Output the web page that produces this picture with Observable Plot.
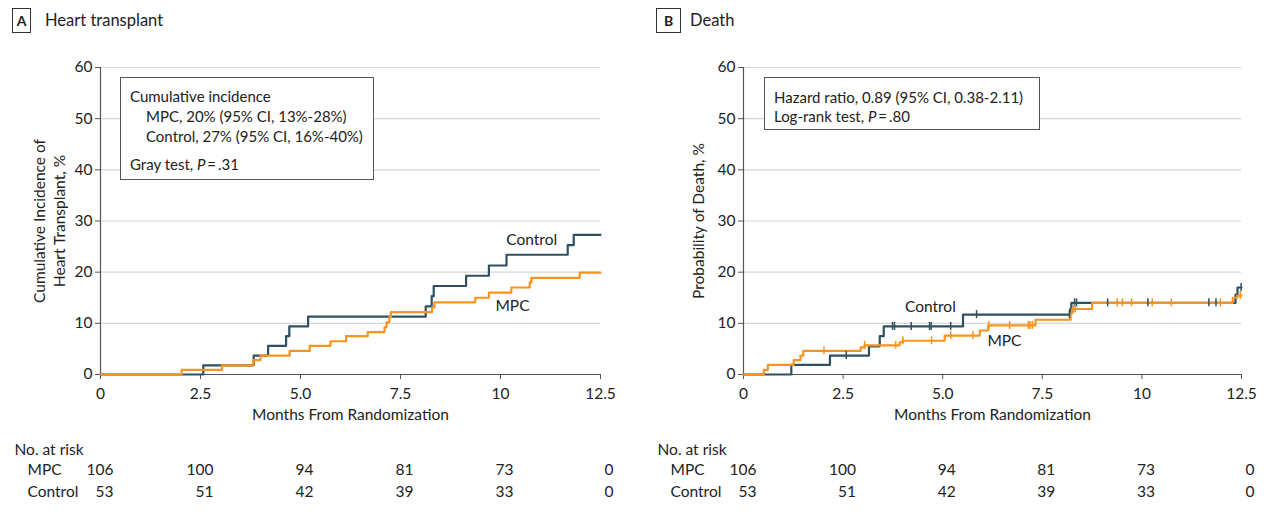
<!DOCTYPE html>
<html>
<head>
<meta charset="utf-8">
<script src="https://cdn.jsdelivr.net/npm/d3@7"></script>
<script src="https://cdn.jsdelivr.net/npm/@observablehq/plot@0.6"></script>
<style>
  html, body { margin: 0; padding: 0; background: #fff; }
  #root { position: relative; width: 1267px; height: 527px; font-family: Lato, "Noto Sans", sans-serif; color: #222; overflow: hidden; }
  .hdrbox { position: absolute; border: 1px solid #333; font-weight: bold; font-size: 14px; text-align: center; box-sizing: border-box; }
  .hdrtxt { position: absolute; font-size: 16.5px; white-space: nowrap; }
  .legend { position: absolute; border: 1px solid #555; box-sizing: border-box; background: #fff; }
  .legend .ln { position: absolute; font-size: 15px; white-space: nowrap; transform: translateY(-50%); }
  .panel { position: absolute; top: 0; }
</style>
</head>
<body>
<div id="root">
  <div class="hdrbox" style="left:12px;top:8px;width:19px;height:25px;line-height:23px;">A</div>
  <div class="hdrtxt" style="left:45px;top:10px;">Heart transplant</div>
  <div class="hdrbox" style="left:656px;top:8px;width:25px;height:25px;line-height:23px;">B</div>
  <div class="hdrtxt" style="left:690px;top:10px;">Death</div>
  <div id="panelA" class="panel" style="left:0px;"></div>
  <div id="panelB" class="panel" style="left:640px;"></div>
  <div class="legend" style="left:120px;top:77px;width:254px;height:103px;">
    <div class="ln" style="left:9px;top:18px;">Cumulative incidence</div>
    <div class="ln" style="left:25px;top:38px;">MPC, 20% (95% CI, 13%-28%)</div>
    <div class="ln" style="left:25px;top:58px;">Control, 27% (95% CI, 16%-40%)</div>
    <div class="ln" style="left:9px;top:86px;">Gray test, <i>P</i>&#8201;=&#8201;.31</div>
  </div>
  <div class="legend" style="left:764px;top:77px;width:276px;height:53px;">
    <div class="ln" style="left:9px;top:19px;">Hazard ratio, 0.89 (95% CI, 0.38-2.11)</div>
    <div class="ln" style="left:9px;top:38px;">Log-rank test, <i>P</i>&#8201;=&#8201;.80</div>
  </div>
</div>
<script>
// ---------- data ----------
const xTicks = [0, 2.5, 5, 7.5, 10, 12.5];
const xTickLabels = ["0", "2.5", "5.0", "7.5", "10", "12.5"];
const yTicks = [0, 10, 20, 30, 40, 50, 60];
const xMax = 12.5;

const riskMPC = [106, 100, 94, 81, 73, 0];
const riskControl = [53, 51, 42, 39, 33, 0];

// Panel A: cumulative incidence of heart transplant (%)
const mpcA_t = [0, 2.03, 3.04, 3.82, 4.0, 4.73, 5.23, 5.75, 6.14, 6.68, 7.1, 7.15, 7.22, 7.26, 8.29, 8.35, 9.37, 9.71, 10.27, 10.73, 10.77, 11.98];
const mpcA_v = [0, 0.9, 1.8, 2.8, 3.7, 4.6, 5.6, 6.5, 7.5, 8.3, 9.2, 10.2, 11.2, 12.2, 13.1, 14.1, 15.0, 16.0, 17.0, 18.0, 18.9, 19.9];
const ctrlA_t = [0, 2.57, 3.83, 4.19, 4.64, 4.72, 5.19, 8.13, 8.28, 8.33, 9.14, 9.71, 10.15, 11.68, 11.83];
const ctrlA_v = [0, 1.8, 3.7, 5.6, 7.5, 9.4, 11.3, 13.3, 15.3, 17.3, 19.3, 21.3, 23.4, 25.3, 27.3];

// Panel B: probability of death (%)
const mpcB_t = [0, 0.51, 0.61, 1.26, 1.43, 1.5, 2.94, 3.04, 3.92, 4.0, 5.05, 5.93, 6.14, 7.33, 8.21, 8.25, 8.75, 12.28, 12.39];
const mpcB_v = [0, 0.9, 1.9, 2.8, 3.7, 4.6, 5.3, 5.7, 6.3, 6.6, 7.6, 8.6, 9.6, 10.7, 11.9, 12.8, 14.0, 15.0, 15.4];
const ctrlB_t = [0, 1.2, 2.17, 3.15, 3.42, 3.52, 5.51, 8.2, 8.23, 12.35, 12.4];
const ctrlB_v = [0, 1.9, 3.7, 5.5, 7.5, 9.4, 11.7, 12.8, 14.0, 15.6, 17.0];
const censorMPC_B = [2.02, 3.04, 3.82, 4.0, 4.72, 5.2, 5.76, 6.16, 6.68, 7.15, 7.19, 7.25, 8.29, 8.33, 9.38, 9.51, 9.74, 10.26, 10.74, 11.97, 12.47];
const censorCtrl_B = [2.58, 3.74, 3.79, 4.21, 4.67, 4.71, 5.2, 5.85, 8.18, 8.31, 8.36, 9.14, 10.15, 11.68, 11.86, 12.49];

// ---------- helpers ----------
const COL_MPC = "#f7941d";
const COL_CTRL = "#2f5060";
const AXIS = "#555";
const FONT = "Lato, 'Noto Sans', sans-serif";
const FS = 15.5;

function steps(t, v) {
  const d = t.map((x, i) => ({t: x, v: v[i]}));
  d.push({t: xMax, v: v[v.length - 1]});
  return d;
}
function valueAt(x, t, v) {
  let k = 0;
  for (let i = 0; i < t.length; i++) if (t[i] <= x) k = i;
  return v[k];
}
function censorData(times, t, v) {
  return times.map(x => ({t: x, v: valueAt(x, t, v)}));
}

function panel({width, marginLeft, marginRight, yLabel, yLabelDx, mpc, ctrl, censMPC, censCtrl, labels}) {
  const risk = xTicks.map((x, i) => ({t: x, mpc: riskMPC[i], ctrl: riskControl[i]}));
  const T = {fontSize: FS, fill: "#222", lineAnchor: "middle"};
  const marks = [
    Plot.gridY(yTicks.filter(d => d > 0), {stroke: "#d6d6d6", strokeOpacity: 1, strokeWidth: 1.2}),
    Plot.axisY(yTicks, {tickSize: 5, tickPadding: 3, label: null, stroke: AXIS, fontSize: FS}),
    Plot.axisX(xTicks, {tickSize: 5, tickPadding: 8, label: null, stroke: AXIS, fontSize: FS,
      tickFormat: d => xTickLabels[xTicks.indexOf(d)]}),
    Plot.ruleX([0], {stroke: AXIS, strokeWidth: 1.2}),
    Plot.ruleY([0], {stroke: AXIS, strokeWidth: 1.2}),
    Plot.line(ctrl, {x: "t", y: "v", stroke: COL_CTRL, strokeWidth: 2.2, curve: "step-after"}),
    Plot.line(mpc, {x: "t", y: "v", stroke: COL_MPC, strokeWidth: 2.2, curve: "step-after"}),
  ];
  if (censCtrl) marks.push(Plot.ruleX(censCtrl, {x: "t", y1: "v", y2: "v", insetTop: -4, insetBottom: -4, stroke: COL_CTRL, strokeWidth: 1.5}));
  if (censMPC) marks.push(Plot.ruleX(censMPC, {x: "t", y1: "v", y2: "v", insetTop: -4, insetBottom: -4, stroke: COL_MPC, strokeWidth: 1.5}));
  marks.push(
    Plot.text(labels, {x: "t", y: "v", text: "label", ...T}),
    Plot.text([yLabel], {frameAnchor: "left", textAnchor: "middle", rotate: -90, dx: yLabelDx, lineHeight: 1.3, ...T}),
    Plot.text(["Months From Randomization"], {frameAnchor: "bottom", dy: 41, ...T}),
    Plot.text(["No. at risk"], {frameAnchor: "bottom-left", dx: -86, dy: 76, textAnchor: "start", ...T}),
    Plot.text(["MPC"], {frameAnchor: "bottom-left", dx: -73, dy: 96, textAnchor: "start", ...T}),
    Plot.text(["Control"], {frameAnchor: "bottom-left", dx: -73, dy: 118, textAnchor: "start", ...T}),
    Plot.text(risk, {x: "t", text: "mpc", frameAnchor: "bottom", dy: 96, dx: 13, textAnchor: "end", ...T}),
    Plot.text(risk, {x: "t", text: "ctrl", frameAnchor: "bottom", dy: 118, dx: 13, textAnchor: "end", ...T})
  );
  return Plot.plot({
    width, height: 527, marginLeft, marginRight, marginTop: 67, marginBottom: 153,
    style: {fontFamily: FONT, fontSize: FS + "px", color: "#222", background: "transparent", overflow: "visible"},
    x: {domain: [0, xMax]},
    y: {domain: [0, 60]},
    marks
  });
}

document.getElementById("panelA").appendChild(panel({
  width: 640, marginLeft: 100, marginRight: 40,
  yLabel: "Cumulative Incidence of\nHeart Transplant, %", yLabelDx: -52,
  mpc: steps(mpcA_t, mpcA_v), ctrl: steps(ctrlA_t, ctrlA_v),
  labels: [{t: 10.78, v: 26.3, label: "Control"}, {t: 10.3, v: 13.3, label: "MPC"}]
}));
document.getElementById("panelB").appendChild(panel({
  width: 627, marginLeft: 103, marginRight: 26,
  yLabel: "Probability of Death, %", yLabelDx: -46,
  mpc: steps(mpcB_t, mpcB_v), ctrl: steps(ctrlB_t, ctrlB_v),
  censMPC: censorData(censorMPC_B, mpcB_t, mpcB_v),
  censCtrl: censorData(censorCtrl_B, ctrlB_t, ctrlB_v),
  labels: [{t: 4.69, v: 13.1, label: "Control"}, {t: 6.55, v: 6.5, label: "MPC"}]
}));
</script>
</body>
</html>
